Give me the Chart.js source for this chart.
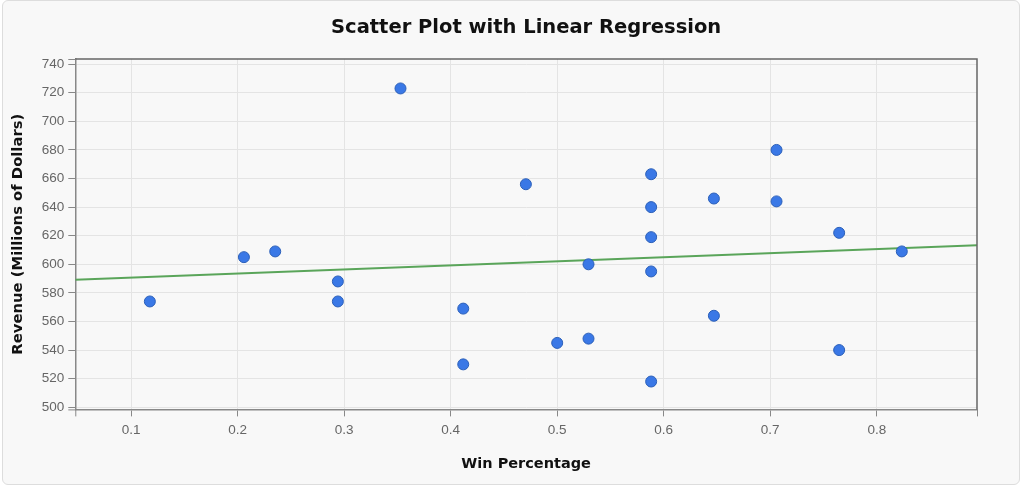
<!DOCTYPE html>
<html>
<head>
<meta charset="utf-8">
<script src="https://cdn.jsdelivr.net/npm/chart.js@4"></script>
<style>
    html, body { margin: 0; padding: 0; background: #ffffff; }
    .card {
        position: absolute; left: 2px; top: 0; width: 1016px; height: 483px;
        background: #f8f8f8; border: 1px solid #dddddd; border-radius: 6px;
    }
    #chart { position: absolute; left: 0; top: 0; }
</style>
</head>
<body>
<div class="card"></div>
<canvas id="chart" width="1024" height="487"></canvas>
<script>
// win percentage vs revenue
const winPct = [0.1176, 0.2059, 0.2353, 0.2941, 0.2941, 0.3529, 0.4118, 0.4118,
                0.4706, 0.5, 0.5294, 0.5294, 0.5882, 0.5882, 0.5882, 0.5882,
                0.5882, 0.6471, 0.6471, 0.7059, 0.7059, 0.7647, 0.7647, 0.8235];
const revenue = [574, 605, 609, 588, 574, 723, 569, 530,
                 656, 545, 600, 548, 663, 640, 619, 595,
                 518, 646, 564, 680, 644, 622, 540, 609];

// regression line end points (as drawn)
const fitX = [0.0476, 0.8941];
const fitY = [589.2, 613.4];

const xTicks = [0.1, 0.2, 0.3, 0.4, 0.5, 0.6, 0.7, 0.8];
const yTicks = [500, 520, 540, 560, 580, 600, 620, 640, 660, 680, 700, 720, 740];

const chartTitle = 'Scatter Plot with Linear Regression';

const points = winPct.map((w, i) => ({ x: w, y: revenue[i] }));
const fitLine = fitX.map((w, i) => ({ x: w, y: fitY[i] }));

// title centred over the plot, frame on top/right, outer end ticks
const framePlugin = {
    id: 'frame',
    afterDatasetsDraw(chart) {
        const { ctx, chartArea: a } = chart;
        ctx.save();
        ctx.strokeStyle = '#666';
        ctx.lineWidth = 1.5;
        ctx.beginPath();
        ctx.moveTo(a.left, a.top);
        ctx.lineTo(a.right, a.top);
        ctx.lineTo(a.right, a.bottom);
        ctx.stroke();
        ctx.strokeStyle = '#888';
        ctx.lineWidth = 1;
        ctx.beginPath();
        ctx.moveTo(a.left - 7, a.top + 0.5); ctx.lineTo(a.left, a.top + 0.5);
        ctx.moveTo(a.left - 7, a.bottom + 0.5); ctx.lineTo(a.left, a.bottom + 0.5);
        ctx.moveTo(a.left + 0.5, a.bottom); ctx.lineTo(a.left + 0.5, a.bottom + 7);
        ctx.moveTo(a.right + 0.5, a.bottom); ctx.lineTo(a.right + 0.5, a.bottom + 7);
        ctx.stroke();

        ctx.fillStyle = '#111';
        ctx.font = 'bold 19.5px "DejaVu Sans", Verdana, sans-serif';
        ctx.textAlign = 'center';
        ctx.textBaseline = 'middle';
        ctx.fillText(chartTitle, (a.left + a.right) / 2, 28);
        ctx.restore();
    }
};

Chart.defaults.font.family = '"Liberation Sans", Arial, sans-serif';

new Chart(document.getElementById('chart').getContext('2d'), {
    type: 'scatter',
    data: {
        datasets: [{
            label: 'Teams',
            data: points,
            backgroundColor: '#3a78e6',
            borderColor: '#2b5fb8',
            borderWidth: 1,
            pointRadius: 5.5,
            order: 1
        }, {
            label: 'Linear Regression',
            type: 'line',
            data: fitLine,
            borderColor: '#5aa55a',
            borderWidth: 2,
            pointRadius: 0,
            fill: false,
            order: 2
        }]
    },
    options: {
        responsive: false,
        animation: false,
        layout: { padding: { left: 5, right: 47, top: 59, bottom: 10 } },
        plugins: {
            legend: { display: false },
            tooltip: { enabled: false }
        },
        scales: {
            x: {
                type: 'linear',
                min: fitX[0],
                max: fitX[1],
                afterBuildTicks: (axis) => { axis.ticks = xTicks.map(v => ({ value: v })); },
                ticks: { color: '#666', font: { size: 13.5 }, padding: 6 },
                grid: { color: '#e4e4e4', tickColor: '#888', tickLength: 7 },
                border: { display: true, color: '#888', width: 1.5 },
                title: {
                    display: true,
                    text: 'Win Percentage',
                    color: '#111',
                    font: { family: '"DejaVu Sans", Verdana, sans-serif', size: 14.5, weight: 'bold' },
                    padding: { top: 11 }
                }
            },
            y: {
                type: 'linear',
                min: 498.5,
                max: 743.6,
                afterBuildTicks: (axis) => { axis.ticks = yTicks.map(v => ({ value: v })); },
                ticks: { color: '#666', font: { size: 13.5 }, padding: 4 },
                grid: { color: '#e4e4e4', tickColor: '#888', tickLength: 7 },
                border: { display: true, color: '#888', width: 1.5 },
                title: {
                    display: true,
                    text: 'Revenue (Millions of Dollars)',
                    color: '#111',
                    font: { family: '"DejaVu Sans", Verdana, sans-serif', size: 14.8, weight: 'bold' },
                    padding: { bottom: 11 }
                }
            }
        }
    },
    plugins: [framePlugin]
});
</script>
</body>
</html>
